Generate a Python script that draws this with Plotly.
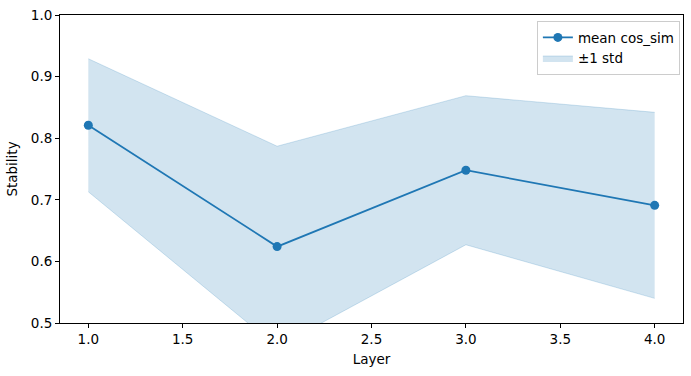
import plotly.graph_objects as go

layers = [1, 2, 3, 4]
mean_cos = [0.821, 0.624, 0.748, 0.691]
std_cos = [0.108, 0.163, 0.121, 0.151]

upper = [m + s for m, s in zip(mean_cos, std_cos)]
lower = [m - s for m, s in zip(mean_cos, std_cos)]

blue = "#1f77b4"
band = "rgba(31,119,180,0.2)"

fig = go.Figure()
fig.add_trace(go.Scatter(x=layers, y=upper, mode="lines", line=dict(color=band, width=1),
                         showlegend=False, hoverinfo="skip"))
fig.add_trace(go.Scatter(x=layers, y=lower, mode="lines", line=dict(color=band, width=1),
                         fill="tonexty", fillcolor=band, name="±1 std"))
fig.add_trace(go.Scatter(x=layers, y=mean_cos, mode="lines+markers", name="mean cos_sim",
                         line=dict(color=blue, width=1.8), marker=dict(size=9, color=blue)))

font = dict(family="DejaVu Sans", size=13.5, color="black")
axis_common = dict(showline=True, linecolor="black", linewidth=1, mirror=True,
                   ticks="outside", ticklen=4, tickcolor="black", showgrid=False,
                   zeroline=False, tickfont=font)

fig.update_layout(
    width=691, height=376,
    margin=dict(l=60, r=8, t=15, b=53),
    plot_bgcolor="white", paper_bgcolor="white",
    font=font,
    xaxis=dict(range=[0.85, 4.15], tickvals=[1.0, 1.5, 2.0, 2.5, 3.0, 3.5, 4.0],
               ticktext=["1.0", "1.5", "2.0", "2.5", "3.0", "3.5", "4.0"],
               title=dict(text="Layer", font=font, standoff=8), **axis_common),
    yaxis=dict(range=[0.5, 1.0], tickvals=[0.5, 0.6, 0.7, 0.8, 0.9, 1.0],
               ticktext=["0.5", "0.6", "0.7", "0.8", "0.9", "1.0"],
               title=dict(text="Stability", font=font, standoff=10), **axis_common),
    legend=dict(x=0.995, y=0.98, xanchor="right", yanchor="top", traceorder="reversed",
                bgcolor="rgba(255,255,255,0.8)", bordercolor="#cccccc", borderwidth=1,
                font=font),
    showlegend=True,
)

fig.write_html("out.html")
